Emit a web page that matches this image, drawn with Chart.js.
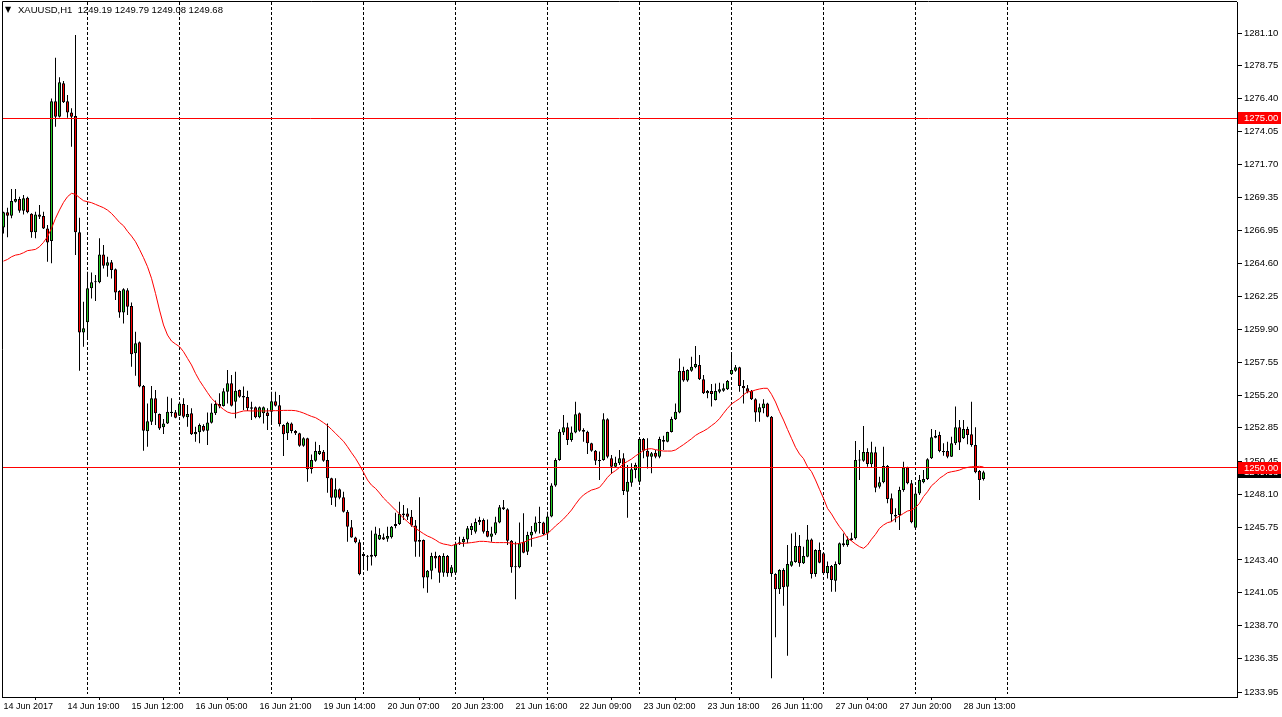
<!DOCTYPE html>
<html>
<head>
<meta charset="utf-8">
<script src="https://cdn.jsdelivr.net/npm/chart.js@4.4.0/dist/chart.umd.min.js"></script>
<style>
html, body { margin: 0; padding: 0; background: #ffffff; }
#chart { display: block; }
</style>
</head>
<body>
<canvas id="chart" width="1282" height="717"></canvas>
<script>
// XAUUSD H1, bars 0..245 (14 Jun 2017 03:00 -> 28 Jun 18:00)
const symbolTitle = 'XAUUSD,H1';

const opens = [
  1267.19, 1268.27, 1268.03, 1269.03, 1269.22, 1268.39, 1269.32, 1268.17, 1266.84, 1268.12,
  1268.00, 1267.12, 1266.22, 1276.21, 1275.11, 1277.50, 1276.21, 1275.42, 1275.16, 1266.84,
  1259.68, 1260.40, 1262.83, 1263.26, 1263.26, 1265.26, 1264.45, 1264.69, 1264.19, 1262.64,
  1261.11, 1262.69, 1261.57, 1258.18, 1258.97, 1255.85, 1252.60, 1253.29, 1254.96, 1253.84,
  1252.89, 1253.17, 1253.91, 1253.96, 1253.72, 1254.56, 1253.60, 1253.89, 1252.39, 1252.53,
  1252.98, 1252.65, 1253.22, 1253.89, 1254.56, 1254.41, 1255.44, 1256.04, 1254.72, 1255.56,
  1255.03, 1255.06, 1254.32, 1254.32, 1253.60, 1253.89, 1253.94, 1254.01, 1254.75, 1254.46,
  1253.05, 1252.46, 1253.17, 1252.62, 1252.46, 1251.57, 1252.10, 1249.90, 1250.50, 1250.98,
  1251.14, 1250.55, 1249.24, 1247.85, 1248.45, 1247.88, 1246.85, 1245.73, 1245.01, 1244.66,
  1243.68, 1243.63, 1243.63, 1243.68, 1244.87, 1245.02, 1244.92, 1245.02, 1245.83, 1245.97,
  1246.73, 1246.73, 1246.49, 1245.87, 1244.82, 1244.82, 1242.15, 1242.63, 1243.68, 1243.68,
  1242.49, 1243.68, 1242.44, 1242.49, 1244.52, 1244.66, 1244.87, 1245.54, 1245.42, 1246.09,
  1246.26, 1245.47, 1245.06, 1245.30, 1246.07, 1247.17, 1247.02, 1244.78, 1242.87, 1242.87,
  1244.71, 1243.99, 1245.14, 1245.42, 1246.07, 1246.07, 1245.30, 1246.50, 1248.72, 1250.55,
  1252.51, 1252.89, 1251.98, 1252.51, 1253.89, 1252.70, 1252.58, 1251.74, 1251.22, 1250.55,
  1250.55, 1253.46, 1250.67, 1250.07, 1250.31, 1250.67, 1248.28, 1248.93, 1249.83, 1249.00,
  1252.05, 1251.22, 1250.79, 1251.07, 1250.79, 1251.86, 1251.86, 1252.55, 1253.46, 1253.94,
  1256.92, 1256.23, 1256.94, 1257.18, 1257.35, 1256.32, 1255.32, 1255.49, 1254.84, 1255.44,
  1255.51, 1255.61, 1256.68, 1256.94, 1257.18, 1255.84, 1255.68, 1255.51, 1254.89, 1253.94,
  1254.25, 1254.60, 1253.65, 1242.39, 1241.30, 1242.68, 1241.49, 1242.99, 1243.25, 1244.40,
  1243.16, 1243.63, 1244.87, 1242.39, 1244.11, 1243.87, 1242.44, 1242.97, 1241.92, 1243.11,
  1244.59, 1244.47, 1244.95, 1244.95, 1250.55, 1250.50, 1251.12, 1250.24, 1251.10, 1248.64,
  1248.95, 1250.12, 1247.81, 1246.61, 1246.61, 1248.40, 1250.02, 1248.88, 1245.71, 1248.16,
  1248.95, 1249.19, 1250.67, 1252.15, 1252.34, 1251.19, 1251.19, 1250.79, 1251.74, 1252.89,
  1252.10, 1252.77, 1252.39, 1251.62, 1249.76, 1249.19
];

const highs = [
  1268.31, 1268.60, 1269.94, 1269.94, 1269.39, 1269.51, 1269.39, 1268.20, 1268.31, 1268.79,
  1268.31, 1267.36, 1276.42, 1279.33, 1277.93, 1277.66, 1276.66, 1275.71, 1280.95, 1267.88,
  1261.87, 1264.02, 1263.97, 1263.78, 1266.41, 1265.93, 1265.09, 1264.86, 1264.25, 1262.70,
  1262.83, 1262.83, 1261.81, 1259.73, 1259.02, 1255.92, 1254.60, 1255.85, 1255.56, 1253.88,
  1253.48, 1255.08, 1254.96, 1254.13, 1254.72, 1254.96, 1254.48, 1254.25, 1252.93, 1253.17,
  1253.10, 1253.94, 1254.60, 1254.80, 1255.32, 1255.68, 1256.99, 1256.63, 1256.87, 1255.60,
  1255.80, 1255.50, 1254.72, 1254.37, 1254.37, 1254.37, 1254.25, 1255.44, 1255.44, 1255.20,
  1253.10, 1253.29, 1253.24, 1252.70, 1252.50, 1252.17, 1252.15, 1250.95, 1251.86, 1251.62,
  1251.27, 1253.17, 1249.28, 1249.24, 1248.52, 1248.28, 1246.97, 1246.25, 1245.06, 1244.87,
  1243.92, 1243.75, 1245.50, 1245.78, 1245.66, 1245.30, 1245.78, 1245.83, 1246.78, 1247.57,
  1247.33, 1247.09, 1246.97, 1246.26, 1247.88, 1244.87, 1242.68, 1243.92, 1243.99, 1243.75,
  1243.87, 1243.75, 1243.04, 1244.71, 1245.06, 1245.06, 1245.83, 1246.02, 1246.37, 1246.49,
  1246.37, 1246.30, 1245.78, 1246.49, 1247.33, 1247.69, 1247.09, 1244.83, 1244.71, 1246.07,
  1246.74, 1245.42, 1245.83, 1246.50, 1247.21, 1246.14, 1246.85, 1248.88, 1250.67, 1252.75,
  1253.77, 1253.22, 1252.94, 1254.72, 1253.94, 1252.82, 1252.65, 1251.79, 1251.27, 1251.15,
  1253.89, 1253.53, 1250.91, 1250.79, 1251.27, 1251.03, 1250.19, 1250.31, 1250.36, 1252.10,
  1252.12, 1252.10, 1251.12, 1251.26, 1252.22, 1252.29, 1252.58, 1253.65, 1254.60, 1257.82,
  1257.23, 1257.04, 1257.94, 1258.71, 1258.06, 1256.63, 1255.56, 1255.99, 1256.03, 1256.08,
  1256.03, 1256.27, 1258.06, 1257.35, 1257.23, 1256.27, 1255.91, 1255.56, 1254.96, 1254.60,
  1254.89, 1254.65, 1253.70, 1242.45, 1242.73, 1242.80, 1244.47, 1245.30, 1245.38, 1245.18,
  1244.35, 1245.90, 1244.94, 1244.16, 1244.64, 1243.92, 1243.28, 1243.04, 1243.28, 1244.64,
  1245.30, 1245.07, 1245.35, 1251.91, 1251.27, 1252.98, 1251.39, 1251.86, 1251.50, 1249.36,
  1251.50, 1250.19, 1248.16, 1247.09, 1248.64, 1250.43, 1250.07, 1249.12, 1248.57, 1249.48,
  1249.83, 1250.67, 1252.77, 1252.70, 1252.58, 1251.74, 1251.86, 1252.22, 1254.37, 1253.41,
  1253.41, 1252.93, 1254.72, 1252.89, 1249.83, 1249.79
];

const lows = [
  1266.76, 1266.48, 1267.84, 1268.98, 1268.24, 1268.12, 1268.20, 1266.45, 1266.41, 1267.79,
  1267.08, 1264.74, 1264.62, 1274.40, 1275.05, 1276.10, 1275.04, 1272.97, 1265.21, 1256.94,
  1258.66, 1259.18, 1262.11, 1261.92, 1263.19, 1264.26, 1263.66, 1263.54, 1261.99, 1260.73,
  1260.32, 1260.92, 1257.23, 1256.58, 1255.75, 1251.22, 1251.50, 1253.05, 1253.05, 1252.70,
  1252.41, 1253.12, 1253.65, 1253.53, 1253.70, 1253.53, 1252.93, 1252.34, 1251.86, 1251.74,
  1252.57, 1251.62, 1253.17, 1253.77, 1254.25, 1254.37, 1254.60, 1254.37, 1253.53, 1255.01,
  1254.13, 1254.05, 1253.41, 1253.53, 1253.53, 1253.17, 1252.70, 1253.17, 1254.37, 1252.94,
  1250.84, 1251.98, 1252.46, 1252.34, 1251.50, 1251.50, 1249.00, 1249.59, 1250.43, 1250.91,
  1250.43, 1248.21, 1247.33, 1247.21, 1247.74, 1246.80, 1244.71, 1244.98, 1244.59, 1242.30,
  1242.68, 1242.63, 1243.00, 1243.59, 1244.82, 1244.82, 1244.71, 1244.94, 1245.66, 1245.90,
  1246.26, 1246.26, 1245.78, 1243.63, 1243.63, 1241.37, 1241.06, 1242.01, 1242.80, 1241.77,
  1242.20, 1242.20, 1242.20, 1242.44, 1244.47, 1244.35, 1244.59, 1245.18, 1245.30, 1245.90,
  1245.30, 1245.02, 1244.71, 1245.18, 1246.02, 1246.97, 1244.47, 1242.49, 1240.58, 1242.80,
  1243.87, 1243.75, 1244.35, 1245.30, 1245.30, 1245.18, 1244.95, 1246.45, 1248.64, 1250.50,
  1252.34, 1251.62, 1251.86, 1252.46, 1252.58, 1251.86, 1250.98, 1251.14, 1250.19, 1249.12,
  1250.50, 1250.67, 1249.55, 1250.02, 1250.19, 1248.05, 1246.42, 1248.64, 1249.24, 1248.88,
  1250.67, 1249.95, 1249.60, 1250.67, 1250.67, 1251.26, 1251.82, 1252.51, 1253.41, 1253.89,
  1256.15, 1256.15, 1256.87, 1257.11, 1256.27, 1255.27, 1254.96, 1254.37, 1254.80, 1255.32,
  1255.44, 1255.56, 1256.63, 1256.87, 1255.44, 1254.60, 1255.32, 1254.84, 1253.29, 1253.29,
  1253.89, 1253.60, 1234.93, 1237.86, 1240.96, 1240.13, 1236.55, 1242.92, 1243.20, 1242.92,
  1243.11, 1243.59, 1242.08, 1242.20, 1243.16, 1242.39, 1242.08, 1241.13, 1241.13, 1243.04,
  1244.35, 1244.35, 1244.78, 1244.87, 1249.12, 1250.43, 1250.07, 1250.03, 1248.24, 1248.52,
  1248.88, 1247.45, 1246.14, 1246.09, 1245.54, 1248.28, 1248.81, 1246.02, 1245.68, 1248.04,
  1248.88, 1249.12, 1250.62, 1252.10, 1251.10, 1250.86, 1250.67, 1250.76, 1251.62, 1251.26,
  1252.05, 1251.67, 1251.50, 1249.60, 1247.69, 1249.08
];

const closes = [
  1268.27, 1268.03, 1269.08, 1269.22, 1268.39, 1269.27, 1268.27, 1266.84, 1268.12, 1267.96,
  1267.12, 1266.12, 1276.21, 1275.11, 1277.57, 1276.14, 1275.42, 1275.11, 1266.84, 1259.68,
  1259.97, 1262.83, 1263.26, 1263.28, 1265.26, 1264.45, 1264.69, 1264.14, 1262.54, 1261.11,
  1262.76, 1261.52, 1258.11, 1258.90, 1255.80, 1252.65, 1253.32, 1254.96, 1253.89, 1252.81,
  1253.17, 1254.01, 1254.01, 1253.58, 1254.60, 1253.65, 1253.84, 1252.39, 1252.55, 1253.05,
  1252.65, 1253.24, 1253.94, 1254.56, 1254.37, 1255.47, 1256.04, 1254.44, 1255.51, 1255.08,
  1255.13, 1254.25, 1254.22, 1253.60, 1254.32, 1254.32, 1253.70, 1254.75, 1254.44, 1253.10,
  1252.39, 1253.22, 1252.62, 1252.46, 1251.57, 1252.10, 1249.88, 1250.55, 1251.19, 1251.19,
  1250.50, 1249.24, 1247.85, 1248.45, 1247.85, 1246.85, 1245.78, 1245.01, 1244.66, 1242.37,
  1243.82, 1243.70, 1243.77, 1245.30, 1245.18, 1244.87, 1245.11, 1245.78, 1245.97, 1246.68,
  1246.59, 1246.49, 1245.87, 1244.71, 1244.71, 1242.15, 1242.63, 1243.68, 1243.51, 1242.49,
  1243.68, 1242.44, 1242.87, 1244.54, 1244.66, 1244.90, 1245.66, 1245.83, 1246.11, 1246.26,
  1245.42, 1245.06, 1245.30, 1246.10, 1247.17, 1247.02, 1244.78, 1242.87, 1242.90, 1244.59,
  1243.92, 1245.19, 1245.42, 1246.07, 1246.05, 1245.26, 1246.50, 1248.72, 1250.55, 1252.58,
  1252.89, 1251.98, 1252.51, 1253.82, 1252.65, 1252.58, 1251.74, 1251.22, 1250.50, 1250.48,
  1253.46, 1250.79, 1250.07, 1250.36, 1250.67, 1248.33, 1249.00, 1249.88, 1250.19, 1252.05,
  1251.22, 1250.79, 1251.03, 1250.79, 1252.05, 1251.98, 1252.55, 1253.48, 1254.01, 1256.92,
  1256.23, 1256.99, 1257.23, 1257.42, 1256.32, 1255.32, 1255.49, 1255.27, 1255.49, 1255.61,
  1255.68, 1256.20, 1256.99, 1257.18, 1255.84, 1255.68, 1255.44, 1254.89, 1253.94, 1254.32,
  1254.60, 1253.65, 1242.39, 1241.30, 1242.68, 1241.44, 1243.11, 1243.30, 1244.40, 1243.16,
  1243.68, 1244.87, 1242.39, 1244.11, 1243.20, 1242.44, 1242.97, 1241.96, 1243.11, 1244.59,
  1244.45, 1244.87, 1244.83, 1250.55, 1250.52, 1251.12, 1250.26, 1251.10, 1248.57, 1248.95,
  1250.12, 1247.76, 1246.66, 1246.50, 1248.40, 1250.02, 1248.88, 1246.09, 1248.16, 1249.12,
  1249.19, 1250.60, 1252.17, 1252.29, 1251.19, 1251.10, 1250.79, 1251.74, 1252.89, 1251.81,
  1252.77, 1252.34, 1251.62, 1249.67, 1249.12, 1249.68
];

// red moving average
const maValues = [
  1264.78, 1264.90, 1265.09, 1265.21, 1265.26, 1265.38, 1265.53, 1265.57, 1265.62, 1265.81,
  1266.12, 1266.53, 1267.12, 1267.84, 1268.44, 1268.98, 1269.39, 1269.63, 1269.56, 1269.32,
  1269.10, 1269.03, 1268.96, 1268.84, 1268.72, 1268.60, 1268.43, 1268.19, 1267.88, 1267.55,
  1267.31, 1266.91, 1266.57, 1266.17, 1265.62, 1265.03, 1264.38, 1263.55, 1262.47, 1261.28,
  1260.21, 1259.49, 1259.06, 1258.85, 1258.66, 1258.30, 1257.82, 1257.35, 1256.75, 1256.23,
  1255.80, 1255.37, 1254.96, 1254.68, 1254.41, 1254.17, 1253.98, 1253.89, 1253.89, 1253.98,
  1254.06, 1254.07, 1254.06, 1254.06, 1254.06, 1254.06, 1254.06, 1254.08, 1254.08, 1254.08,
  1254.10, 1254.10, 1254.10, 1254.08, 1254.01, 1253.91, 1253.79, 1253.67, 1253.58, 1253.41,
  1253.22, 1253.01, 1252.74, 1252.46, 1252.17, 1251.89, 1251.50, 1251.07, 1250.67, 1250.19,
  1249.67, 1249.12, 1248.75, 1248.52, 1248.19, 1247.83, 1247.55, 1247.26, 1246.97, 1246.69,
  1246.40, 1246.14, 1245.88, 1245.66, 1245.47, 1245.28, 1245.11, 1244.99, 1244.83, 1244.64,
  1244.54, 1244.49, 1244.42, 1244.52, 1244.59, 1244.59, 1244.61, 1244.64, 1244.68, 1244.73,
  1244.73, 1244.71, 1244.66, 1244.64, 1244.64, 1244.64, 1244.64, 1244.59, 1244.54, 1244.59,
  1244.66, 1244.78, 1244.92, 1244.99, 1245.07, 1245.16, 1245.30, 1245.54, 1245.83, 1246.07,
  1246.33, 1246.64, 1246.97, 1247.38, 1247.76, 1248.05, 1248.24, 1248.40, 1248.48, 1248.59,
  1248.93, 1249.31, 1249.60, 1249.79, 1250.02, 1250.28, 1250.45, 1250.62, 1250.84, 1251.03,
  1251.24, 1251.34, 1251.36, 1251.29, 1251.24, 1251.19, 1251.19, 1251.19, 1251.27, 1251.46,
  1251.65, 1251.86, 1252.07, 1252.31, 1252.48, 1252.62, 1252.79, 1253.01, 1253.22, 1253.51,
  1253.89, 1254.25, 1254.56, 1254.75, 1254.94, 1255.22, 1255.42, 1255.46, 1255.56, 1255.63,
  1255.68, 1255.68, 1255.25, 1254.70, 1254.01, 1253.41, 1252.74, 1252.10, 1251.46, 1250.98,
  1250.65, 1250.07, 1249.72, 1249.12, 1248.45, 1247.81, 1247.09, 1246.69, 1246.21, 1245.78,
  1245.42, 1244.95, 1244.76, 1244.54, 1244.35, 1244.23, 1244.47, 1244.88, 1245.23, 1245.66,
  1245.90, 1246.07, 1246.14, 1246.38, 1246.54, 1246.73, 1246.90, 1246.97, 1247.14, 1247.45,
  1247.93, 1248.28, 1248.71, 1248.95, 1249.24, 1249.43, 1249.64, 1249.71, 1249.76, 1249.83,
  1249.95, 1250.02, 1250.07, 1250.07, 1250.10, 1250.05
];

const dateLabels = [
  '14 Jun 2017', '14 Jun 19:00', '15 Jun 12:00', '16 Jun 05:00', '16 Jun 21:00', '19 Jun 14:00',
  '20 Jun 07:00', '20 Jun 23:00', '21 Jun 16:00', '22 Jun 09:00', '23 Jun 02:00', '23 Jun 18:00',
  '26 Jun 11:00', '27 Jun 04:00', '27 Jun 20:00', '28 Jun 13:00'
];
const dateLabelBars = [0, 16, 32, 48, 64, 80, 96, 112, 128, 144, 160, 176, 192, 208, 224, 240];
const gridBars = [21, 44, 67, 90, 113, 136, 159, 182, 205, 228, 251];

const priceTicks = [
  1233.95, 1236.35, 1238.70, 1241.05, 1243.40, 1245.75, 1248.10, 1250.45, 1252.85, 1255.20,
  1257.55, 1259.90, 1262.25, 1264.60, 1266.95, 1269.35, 1271.70, 1274.05, 1276.40, 1278.75, 1281.10
];
const levelLines = [1275.00, 1250.00];

const bullColor = '#22cc22';
const bearColor = '#ff0000';
const fontFamily = '"Liberation Sans", Arial, sans-serif';

const isBull = closes.map((c, i) => c >= opens[i]);

const mt4Decor = {
    id: 'mt4Decor',
    beforeDatasetsDraw(chart) {
        const {ctx, chartArea: a, scales: {x}} = chart;
        ctx.save();
        ctx.strokeStyle = '#000000';
        ctx.lineWidth = 1;
        ctx.setLineDash([3, 2]);
        gridBars.forEach(b => {
            const px = Math.round(x.getPixelForValue(b) - 0.5) + 0.5;
            if (px > a.right) return;
            ctx.beginPath();
            ctx.moveTo(px, a.top);
            ctx.lineTo(px, a.bottom - 3);
            ctx.stroke();
        });
        ctx.restore();
    },
    afterDatasetsDraw(chart) {
        const {ctx, chartArea: a, scales: {y}} = chart;
        ctx.save();
        ctx.strokeStyle = '#ff0000';
        ctx.lineWidth = 1;
        levelLines.forEach(v => {
            const py = Math.round(y.getPixelForValue(v) - 0.5) + 0.5;
            ctx.beginPath();
            ctx.moveTo(a.left, py);
            ctx.lineTo(a.right, py);
            ctx.stroke();
        });
        ctx.restore();
    },
    afterDraw(chart) {
        const {ctx, chartArea: a, scales: {y}} = chart;
        ctx.save();
        // frame
        ctx.strokeStyle = '#000000';
        ctx.lineWidth = 1;
        ctx.beginPath();
        ctx.moveTo(a.left + 0.5, a.bottom);
        ctx.lineTo(a.left + 0.5, a.top - 0.5);
        ctx.lineTo(a.right, a.top - 0.5);
        ctx.stroke();

        // price boxes on the axis
        ctx.font = '9.5px ' + fontFamily;
        ctx.textBaseline = 'middle';
        ctx.textAlign = 'left';
        const priceBox = (value, bg) => {
            const py = Math.round(y.getPixelForValue(value));
            ctx.fillStyle = bg;
            ctx.fillRect(a.right + 1, py - 6, 43, 12);
            ctx.fillStyle = '#ffffff';
            ctx.fillText(value.toFixed(2), a.right + 7, py);
        };
        priceBox(closes[closes.length - 1], '#000000');
        levelLines.forEach(v => priceBox(v, '#ff0000'));

        // title line
        const last = closes.length - 1;
        ctx.fillStyle = '#000000';
        ctx.font = '8px "DejaVu Sans", sans-serif';
        ctx.fillText('\u25BC', 5, 10);
        ctx.font = '9.5px ' + fontFamily;
        ctx.fillText(symbolTitle + '  ' + [opens[last], highs[last], lows[last], closes[last]]
            .map(v => v.toFixed(2)).join(' '), 18, 10);
        ctx.restore();
    }
};

new Chart(document.getElementById('chart'), {
    type: 'bar',
    data: {
        datasets: [{
            type: 'line',
            label: 'MA',
            data: maValues.map((v, i) => ({x: i, y: v})),
            borderColor: '#ff0000',
            borderWidth: 1,
            pointRadius: 0,
            tension: 0,
            order: 0
        }, {
            label: 'Body',
            data: opens.map((o, i) => ({x: i, y: [o, closes[i]]})),
            backgroundColor: isBull.map(b => b ? bullColor : bearColor),
            borderColor: '#000000',
            borderWidth: 1,
            borderSkipped: false,
            barThickness: 3,
            maxBarThickness: 3,
            minBarLength: 1,
            inflateAmount: 0,
            grouped: false,
            order: 1
        }, {
            label: 'Wick',
            data: lows.map((l, i) => ({x: i, y: [l, highs[i]]})),
            backgroundColor: '#000000',
            borderWidth: 0,
            barThickness: 1,
            maxBarThickness: 1,
            inflateAmount: 0,
            grouped: false,
            order: 2
        }]
    },
    options: {
        responsive: false,
        animation: false,
        devicePixelRatio: 1,
        events: [],
        layout: {
            padding: { left: 2, top: 2, right: 0, bottom: 0 }
        },
        plugins: {
            legend: { display: false },
            tooltip: { enabled: false }
        },
        scales: {
            x: {
                type: 'linear',
                min: -0.375,
                max: 308.375,
                offset: false,
                afterBuildTicks: s => { s.ticks = dateLabelBars.map(v => ({value: v})); },
                afterFit: s => {
                    s.height = 20;
                    s.paddingLeft = 0;
                    s.paddingRight = 0;
                },
                grid: { drawOnChartArea: false, drawTicks: true, tickLength: 3, color: '#000000' },
                border: { display: true, color: '#000000' },
                ticks: {
                    align: 'start',
                    maxRotation: 0,
                    autoSkip: false,
                    padding: 1,
                    color: '#000000',
                    font: { family: fontFamily, size: 9 },
                    callback: (v, i) => dateLabels[i]
                }
            },
            y: {
                position: 'right',
                min: 1233.594,
                max: 1283.318,
                afterBuildTicks: s => { s.ticks = priceTicks.map(v => ({value: v})); },
                afterFit: s => {
                    s.width = 45;
                    s.paddingTop = 0;
                    s.paddingBottom = 0;
                },
                grid: { drawOnChartArea: false, drawTicks: true, tickLength: 5, color: '#000000' },
                border: { display: true, color: '#000000' },
                ticks: {
                    autoSkip: false,
                    padding: 2,
                    color: '#000000',
                    font: { family: fontFamily, size: 9.5 },
                    callback: v => v.toFixed(2)
                }
            }
        }
    },
    plugins: [mt4Decor]
});
</script>
</body>
</html>
